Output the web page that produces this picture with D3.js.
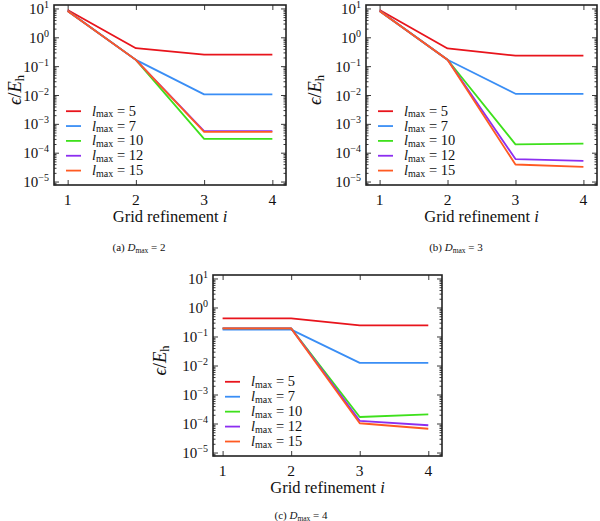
<!DOCTYPE html>
<html><head><meta charset="utf-8">
<script src="https://cdn.jsdelivr.net/npm/d3@7"></script>
<style>
html,body{margin:0;padding:0;background:#fff;}
svg{display:block;}
text{font-family:"Liberation Serif","DejaVu Serif",serif;fill:#111;}
</style></head><body>
<svg id="fig" width="600" height="521"></svg>
<script>
// ---------------- data ----------------
const gridRefinement = [1, 2, 3, 4];
const lmaxLabels = ["5", "7", "10", "12", "15"];
const seriesColors = ["#e8141c", "#3a8ef5", "#3ee01c", "#8c2ef0", "#ff5a22"];
const xTickValues = [1, 2, 3, 4];
const yTickExponents = [1, 0, -1, -2, -3, -4, -5];
const panelCaptions = ["(a)", "(b)", "(c)"];
const dmaxValues = ["2", "3", "4"];

// errors eps/Eh, one row per lmax (5,7,10,12,15), columns grid refinement 1..4
const errDmax2 = [
  [8.8, 0.42, 0.25, 0.25],
  [8.4, 0.165, 0.0105, 0.0105],
  [8.2, 0.165, 3.0e-4, 3.0e-4],
  [8.2, 0.165, 5.6e-4, 5.6e-4],
  [8.2, 0.165, 5.3e-4, 5.3e-4]
];
const errDmax3 = [
  [8.8, 0.41, 0.23, 0.23],
  [8.3, 0.166, 0.011, 0.011],
  [8.2, 0.166, 1.95e-4, 2.05e-4],
  [8.2, 0.166, 6.0e-5, 5.2e-5],
  [8.2, 0.166, 3.9e-5, 3.2e-5]
];
const errDmax4 = [
  [0.42, 0.42, 0.243, 0.243],
  [0.173, 0.173, 0.0123, 0.0123],
  [0.19, 0.19, 1.68e-4, 2.06e-4],
  [0.19, 0.19, 1.23e-4, 8.7e-5],
  [0.19, 0.19, 1.02e-4, 6.6e-5]
];
const panelData = [errDmax2, errDmax3, errDmax4];

// ---------------- layout ----------------
const panels = [
  {x0: 54, x1: 286, y0: 5, y1: 185, xd: [0.8, 4.2], ylabX: 21, capY: 251, capX: 139},
  {x0: 366, x1: 597, y0: 5, y1: 185, xd: [0.8, 4.2], ylabX: 321, capY: 251, capX: 456},
  {x0: 213, x1: 442, y0: 275, y1: 456, xd: [0.86, 4.2], ylabX: 166, capY: 519, capX: 301}
];
const yDomain = [Math.pow(10, -5.12), Math.pow(10, 1.12)];

const svg = d3.select("#fig");

panels.forEach((p, pi) => {
  const g = svg.append("g");
  const x = d3.scaleLinear().domain(p.xd).range([p.x0, p.x1]);
  const y = d3.scaleLog().domain(yDomain).range([p.y1, p.y0]);
  const majorTicks = yTickExponents.map(e => Math.pow(10, e));
  const minorTicks = [];
  for (let e = -6; e <= 1; e++) for (let m = 2; m <= 9; m++) {
    const v = m * Math.pow(10, e);
    if (v >= yDomain[0] && v <= yDomain[1]) minorTicks.push(v);
  }
  const tickCol = "#222";
  const left = g.append("g").attr("transform", `translate(${p.x0},0)`)
    .call(d3.axisRight(y).tickValues(majorTicks).tickSize(5).tickFormat(""));
  const leftMinor = g.append("g").attr("transform", `translate(${p.x0},0)`)
    .call(d3.axisRight(y).tickValues(minorTicks).tickSize(2.5).tickFormat(""));
  const right = g.append("g").attr("transform", `translate(${p.x1},0)`)
    .call(d3.axisLeft(y).tickValues(majorTicks).tickSize(5).tickFormat(""));
  const rightMinor = g.append("g").attr("transform", `translate(${p.x1},0)`)
    .call(d3.axisLeft(y).tickValues(minorTicks).tickSize(2.5).tickFormat(""));
  const bottom = g.append("g").attr("transform", `translate(0,${p.y1})`)
    .call(d3.axisTop(x).tickValues(xTickValues).tickSize(5).tickFormat(""));
  const top = g.append("g").attr("transform", `translate(0,${p.y0})`)
    .call(d3.axisBottom(x).tickValues(xTickValues).tickSize(5).tickFormat(""));
  [left, leftMinor, right, rightMinor, bottom, top].forEach(a => {
    a.select(".domain").remove();
    a.selectAll("line").attr("stroke", tickCol).attr("stroke-width", 0.9);
  });

  // y tick labels
  majorTicks.forEach((v, k) => {
    const e = yTickExponents[k];
    const t = g.append("text").attr("x", p.x0 - 5).attr("y", y(v) + 5.5)
      .attr("text-anchor", "end").attr("font-size", 15);
    t.append("tspan").text("10");
    t.append("tspan").attr("font-size", 10).attr("dy", -6)
      .text(e < 0 ? "\u2212" + (-e) : String(e));
  });
  // x tick labels
  xTickValues.forEach(v => {
    g.append("text").attr("x", x(v)).attr("y", p.y1 + 19.5)
      .attr("text-anchor", "middle").attr("font-size", 15.5).text(v);
  });
  // x axis label
  const xl = g.append("text").attr("x", (p.x0 + p.x1) / 2).attr("y", p.y1 + 36.5)
    .attr("text-anchor", "middle").attr("font-size", 16.5);
  xl.append("tspan").text("Grid refinement ");
  xl.append("tspan").attr("font-style", "italic").text("i");
  // y axis label
  const yl = g.append("text")
    .attr("transform", `translate(${p.ylabX},${(p.y0 + p.y1) / 2 - 5}) rotate(-90)`)
    .attr("text-anchor", "middle").attr("font-size", 18.5);
  yl.append("tspan").attr("font-style", "italic").text("\u03f5");
  yl.append("tspan").text("/");
  yl.append("tspan").attr("font-style", "italic").text("E");
  yl.append("tspan").attr("font-size", 12.5).attr("dy", 3).text("h");
  // caption
  const cap = g.append("text").attr("x", p.capX).attr("y", p.capY)
    .attr("text-anchor", "middle").attr("font-size", 11);
  cap.append("tspan").text(panelCaptions[pi] + "  ");
  cap.append("tspan").attr("font-style", "italic").text("D");
  cap.append("tspan").attr("font-size", 7.5).attr("dy", 1.5).text("max");
  cap.append("tspan").attr("dy", -1.5).text(" = " + dmaxValues[pi]);

  // lines
  const line = d3.line().x((d, k) => x(gridRefinement[k])).y(d => y(d));
  panelData[pi].forEach((s, si) => {
    g.append("path").datum(s).attr("d", line).attr("fill", "none")
      .attr("stroke", seriesColors[si]).attr("stroke-width", 1.8)
      .attr("stroke-linejoin", "round");
  });

  // legend
  const lx = p.x0 + 12, ly = p.y0 + (p.y1 - p.y0) * 0.59, step = (p.y1 - p.y0) * 0.0825;
  lmaxLabels.forEach((lab, si) => {
    const yy = ly + si * step;
    g.append("line").attr("x1", lx).attr("x2", lx + 15).attr("y1", yy).attr("y2", yy)
      .attr("stroke", seriesColors[si]).attr("stroke-width", 1.8);
    const t = g.append("text").attr("x", lx + 26).attr("y", yy + 4.5).attr("font-size", 14.5);
    t.append("tspan").attr("font-style", "italic").text("l");
    t.append("tspan").attr("font-size", 10).attr("dy", 1.5).text("max");
    t.append("tspan").attr("dy", -1.5).text(" = " + lab);
  });

  // frame
  g.append("rect").attr("x", p.x0).attr("y", p.y0)
    .attr("width", p.x1 - p.x0).attr("height", p.y1 - p.y0)
    .attr("fill", "none").attr("stroke", "#222").attr("stroke-width", 1.6);
});
</script>
</body></html>
